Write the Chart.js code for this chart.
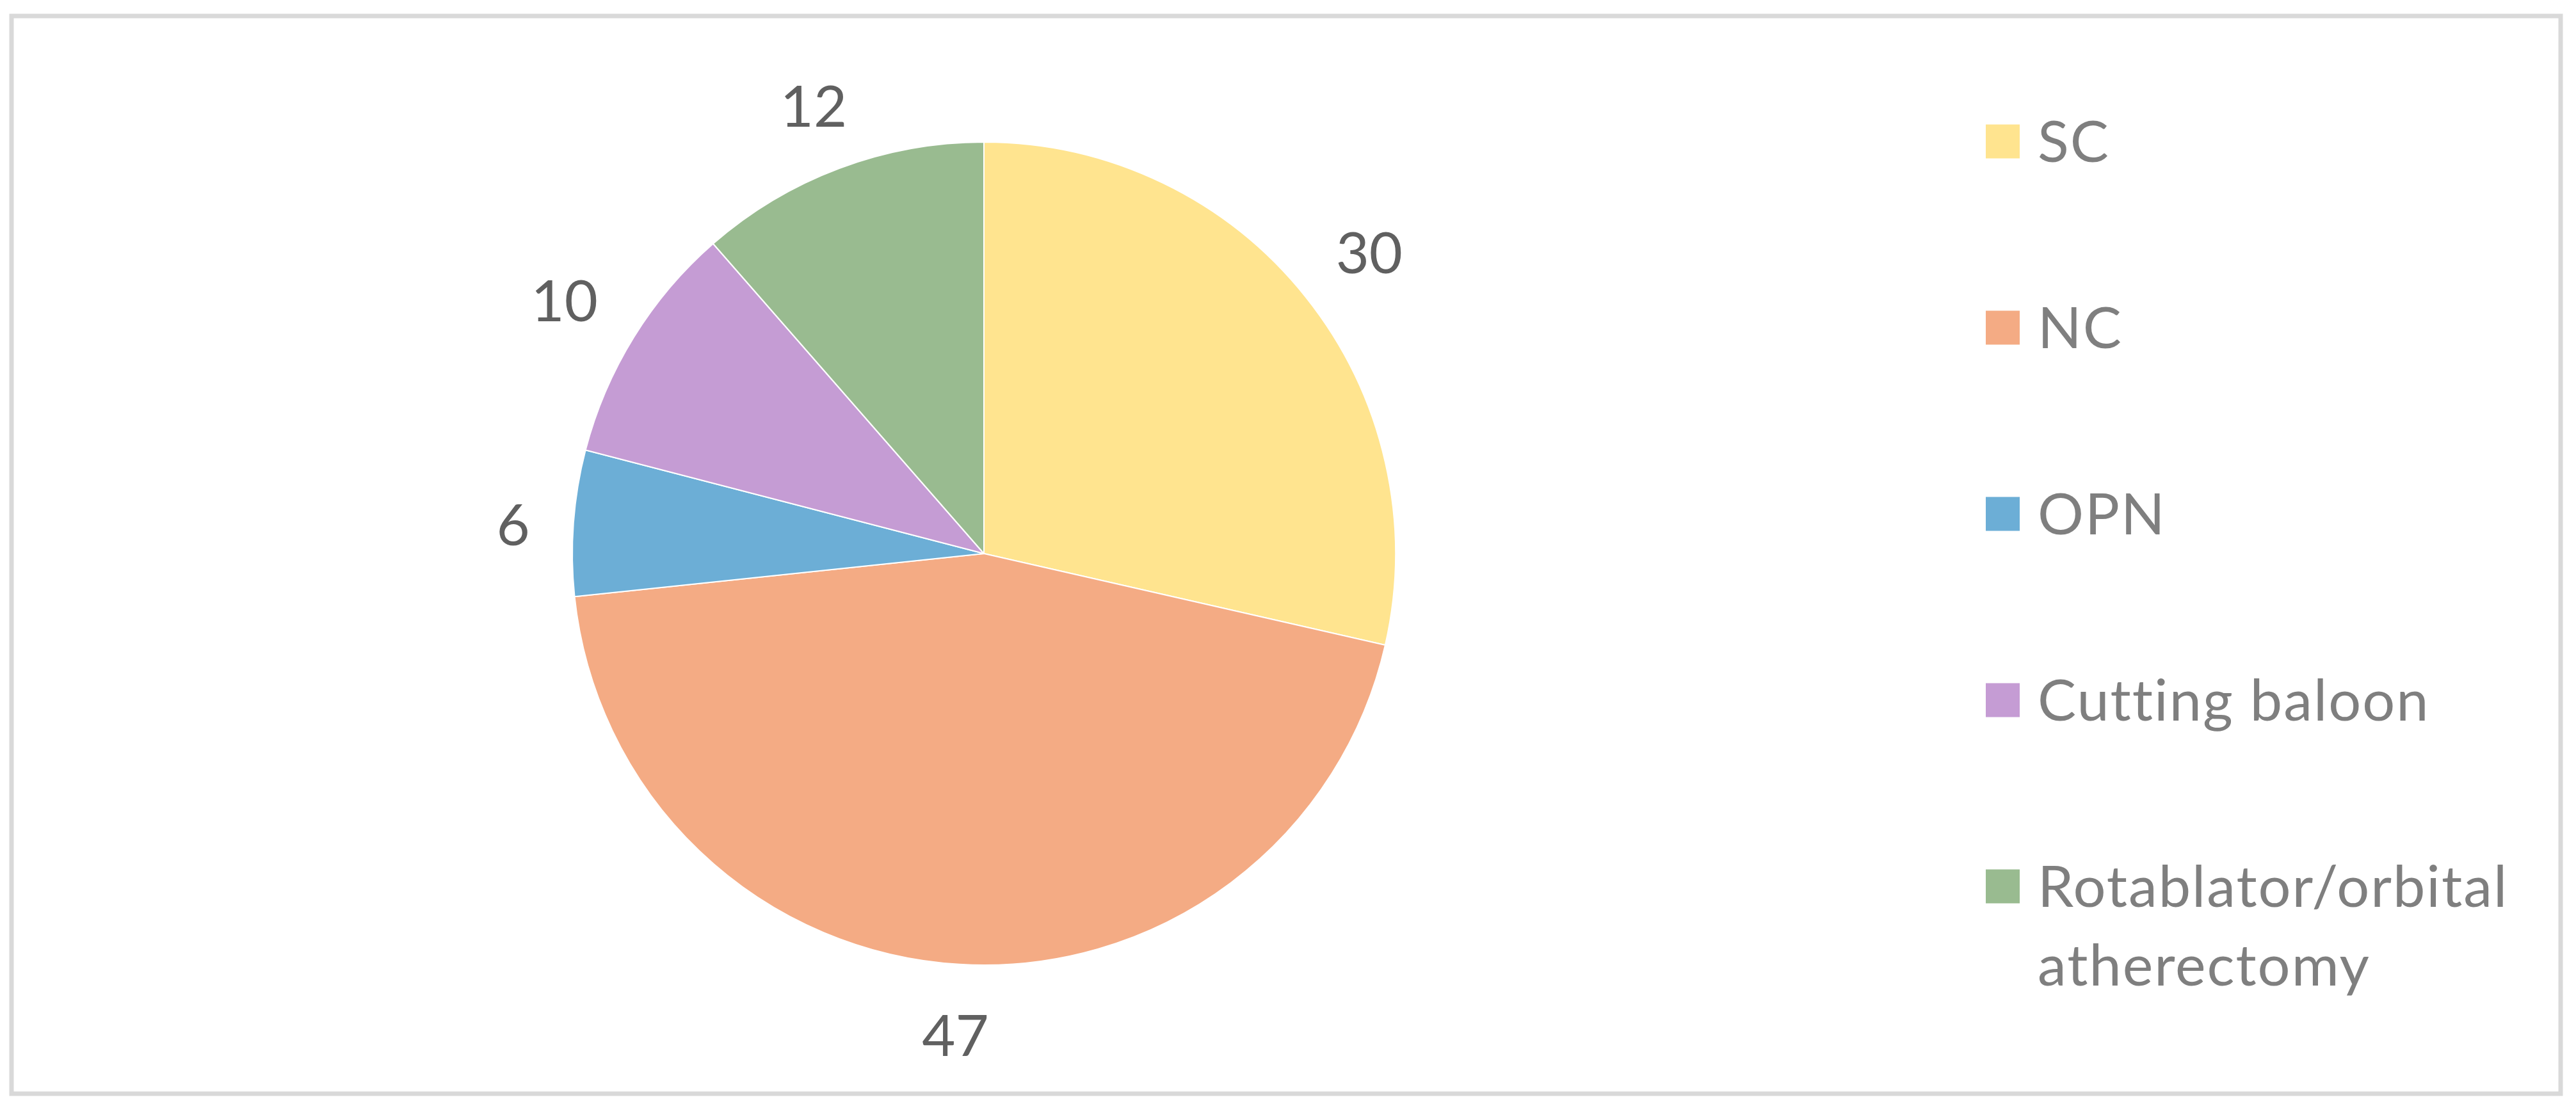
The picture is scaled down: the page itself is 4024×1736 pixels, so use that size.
<!DOCTYPE html>
<html>
<head>
<meta charset="utf-8">
<title>Pie</title>
<script src="https://cdn.jsdelivr.net/npm/chart.js@4.4.0/dist/chart.umd.min.js"></script>
<style>
  html, body { margin: 0; padding: 0; background: #fff; }
</style>
</head>
<body>
<canvas id="pie" width="4024" height="1736"></canvas>
<script>
const categories = ['SC', 'NC', 'OPN', 'Cutting baloon', ['Rotablator/orbital', 'atherectomy']];
const counts = [30, 47, 6, 10, 12];
const sliceColors = ['#FFE48F', '#F4AB84', '#6CAED6', '#C59CD4', '#99BB90'];

const FONT = 'Lato, "Open Sans", sans-serif';
const FONT_SIZE = 90;
const CAP_H = 64;

// light grey frame round the whole chart
const frame = {
  id: 'frame',
  beforeDraw(chart) {
    const ctx = chart.ctx;
    ctx.save();
    ctx.fillStyle = '#fff';
    ctx.fillRect(0, 0, chart.width, chart.height);
    ctx.strokeStyle = '#d9d9d9';
    ctx.lineWidth = 7;
    ctx.strokeRect(18, 25, 3982, 1684);
    ctx.restore();
  }
};

// value labels outside each slice
const sliceLabels = {
  id: 'sliceLabels',
  afterDatasetsDraw(chart) {
    const ctx = chart.ctx;
    const meta = chart.getDatasetMeta(0);
    ctx.save();
    ctx.font = FONT_SIZE + 'px ' + FONT;
    ctx.fillStyle = '#606060';
    ctx.textAlign = 'center';
    ctx.textBaseline = 'alphabetic';
    meta.data.forEach((arc, i) => {
      const p = arc.getProps(['x', 'y', 'startAngle', 'endAngle', 'outerRadius'], true);
      const mid = (p.startAngle + p.endAngle) / 2;
      const text = String(chart.data.datasets[0].data[i]);
      const w = ctx.measureText(text).width;
      const reach = p.outerRadius + 66 + Math.abs(Math.cos(mid)) * w / 2 + Math.abs(Math.sin(mid)) * CAP_H / 2;
      ctx.fillText(text, p.x + Math.cos(mid) * reach, p.y + Math.sin(mid) * reach + CAP_H / 2 + 10);
    });
    ctx.restore();
  }
};

// legend column on the right, Excel style
const sideLegend = {
  id: 'sideLegend',
  afterDraw(chart) {
    const ctx = chart.ctx;
    const labels = chart.data.labels;
    const colors = chart.data.datasets[0].backgroundColor;
    const boxX = 3102, textX = 3183, top = 221, step = 291, box = 53, lineGap = 123;
    ctx.save();
    ctx.font = FONT_SIZE + 'px ' + FONT;
    ctx.letterSpacing = '2px'; // also stops the "tt" ligature
    ctx.textAlign = 'left';
    ctx.textBaseline = 'alphabetic';
    labels.forEach((label, i) => {
      const cy = top + i * step;
      ctx.fillStyle = colors[i];
      ctx.fillRect(boxX, cy - box / 2, box, box);
      ctx.fillStyle = '#7f7f7f';
      const lines = Array.isArray(label) ? label : [label];
      lines.forEach((line, j) => {
        ctx.fillText(line, textX, cy + CAP_H / 2 + j * lineGap);
      });
    });
    ctx.restore();
  }
};

new Chart(document.getElementById('pie'), {
  type: 'pie',
  data: {
    labels: categories,
    datasets: [{
      data: counts,
      backgroundColor: sliceColors,
      borderColor: '#ffffff',
      borderWidth: 2
    }]
  },
  options: {
    responsive: false,
    devicePixelRatio: 1,
    animation: false,
    layout: {
      padding: { left: 893, right: 1843, top: 221, bottom: 227 }
    },
    plugins: {
      legend: { display: false },
      tooltip: { enabled: false }
    }
  },
  plugins: [frame, sliceLabels, sideLegend]
});
</script>
</body>
</html>
